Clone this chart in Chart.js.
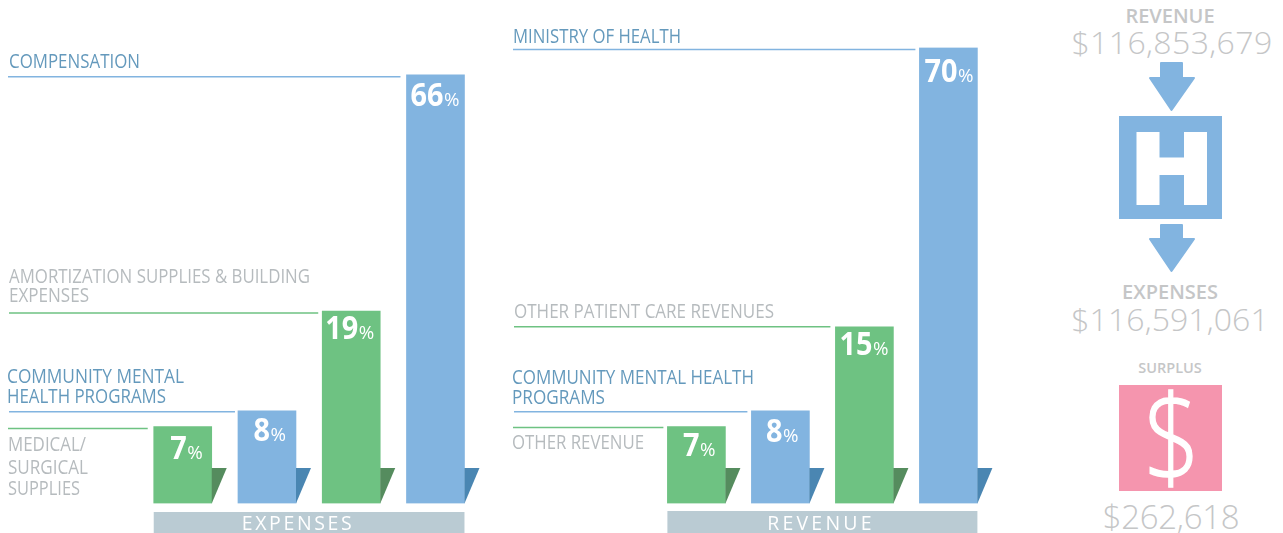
<!DOCTYPE html>
<html>
<head>
<meta charset="utf-8">
<script src="https://cdn.jsdelivr.net/npm/chart.js@4"></script>
<style>
html,body{margin:0;padding:0;background:#fff;width:1283px;height:533px;overflow:hidden;font-family:"Open Sans",sans-serif}
canvas{position:absolute;top:0}
#c1{left:0}#c2{left:500px}
.t{position:absolute;white-space:nowrap;text-align:center;color:#c5c6c7;line-height:1}
#panel svg{position:absolute;left:1060px;top:0}
</style>
</head>
<body>
<canvas id="c1" width="500" height="533"></canvas>
<canvas id="c2" width="500" height="533"></canvas>
<div id="panel">
<svg width="223" height="533" viewBox="1060 0 223 533">
<path d="M1161 63H1182V78H1194L1171.5 110L1150 78H1161Z" fill="#82b4e0" stroke="#82b4e0" stroke-width="2" stroke-linejoin="round"/>
<path d="M1161 225H1182V239H1194L1171.5 271L1150 239H1161Z" fill="#82b4e0" stroke="#82b4e0" stroke-width="2" stroke-linejoin="round"/>
<rect x="1119" y="116" width="103" height="103" fill="#82b4e0"/>
<path d="M1136.5 132H1159.5V157.5H1184V132H1207V205H1184V175H1159.5V205H1136.5Z" fill="#fff"/>
<rect x="1119" y="385" width="103" height="106" fill="#f595ae"/>
</svg>
</div>
<script>
// ---- data ----
const expenseCategories = ["Medical/Surgical Supplies", "Community Mental Health Programs", "Amortization Supplies & Building Expenses", "Compensation"];
const expenseValues = [7, 8, 19, 66];
const revenueCategories = ["Other Revenue", "Community Mental Health Programs", "Other Patient Care Revenues", "Ministry of Health"];
const revenueValues = [7, 8, 15, 70];
const expenseLabelLines = [["MEDICAL/", "SURGICAL", "SUPPLIES"], ["COMMUNITY MENTAL", "HEALTH PROGRAMS"], ["AMORTIZATION SUPPLIES & BUILDING", "EXPENSES"], ["COMPENSATION"]];
const revenueLabelLines = [["OTHER REVENUE"], ["COMMUNITY MENTAL HEALTH", "PROGRAMS"], ["OTHER PATIENT CARE REVENUES"], ["MINISTRY OF HEALTH"]];
const expenseBandTitle = "EXPENSES";
const revenueBandTitle = "REVENUE";
const summaryTitles = ["REVENUE", "EXPENSES", "SURPLUS"];
const summaryAmounts = ["$116,853,679", "$116,591,061", "$262,618"];

// The source graphic is not drawn to a linear scale: these axis stops reproduce it.
const axisValues = [0, 7, 8, 15, 19, 66, 70];
const axisShares = [0, 0.1688, 0.2035, 0.3875, 0.422, 0.9405, 1];

// ---- styling / layout ----
const GREEN = "#6ec282", BLUE = "#82b4e0", DGREEN = "#558c5e", DBLUE = "#4a86b2";
const BAND = "#bacbd3", LABEL_BLUE = "#6499bc", LABEL_GREY = "#b6bbbe";
const fillColors = [GREEN, BLUE, GREEN, BLUE];
const foldColors = [DGREEN, DBLUE, DGREEN, DBLUE];
const labelColors = [LABEL_GREY, LABEL_BLUE, LABEL_GREY, LABEL_BLUE];

class StopScale extends Chart.LinearScale {
  getPixelForValue(v) {
    let share = 1;
    for (let i = 1; i < axisValues.length; i++) {
      if (v <= axisValues[i]) {
        share = axisShares[i-1] + (v - axisValues[i-1]) / (axisValues[i] - axisValues[i-1]) * (axisShares[i] - axisShares[i-1]);
        break;
      }
    }
    return this.bottom - share * (this.bottom - this.top);
  }
}
StopScale.id = "stops";
StopScale.defaults = Chart.LinearScale.defaults;
Chart.register(StopScale);

const decorate = {
  id: "decorate",
  afterDatasetsDraw(chart, args, o) {
    const ctx = chart.ctx, bars = chart.getDatasetMeta(0).data, vals = chart.data.datasets[0].data;
    ctx.save();
    bars.forEach((b, i) => {
      const left = b.x - 29, right = b.x + 29, top = b.y, base = b.base;
      // fold
      ctx.fillStyle = foldColors[i];
      ctx.beginPath();
      ctx.moveTo(right, 468); ctx.lineTo(right + 15, 468); ctx.lineTo(right, base); ctx.closePath(); ctx.fill();
      // leader line
      ctx.strokeStyle = fillColors[i]; ctx.lineWidth = 1.5;
      ctx.beginPath(); ctx.moveTo(o.lineStart[i], top + o.lineDrop[i]); ctx.lineTo(left - o.lineGap[i], top + o.lineDrop[i]); ctx.stroke();
      // category text
      ctx.fillStyle = labelColors[i]; ctx.textAlign = "left"; ctx.textBaseline = "alphabetic";
      ctx.font = "400 20.5px 'Open Sans'";
      o.lines[i].forEach((txt, k) => {
        const p = o.linePos[i][k];
        ctx.fillText(txt, p[0], p[1], p[2]);
      });
      // value text
      const rightEdge = right - o.valueInset[i], yb = top + o.valueDrop[i];
      ctx.fillStyle = "#fff";
      ctx.font = "400 19px 'Open Sans'";
      ctx.textAlign = "right";
      ctx.fillText("%", rightEdge, yb, 15.5);
      const txt = String(vals[i]);
      ctx.font = "700 33px 'Open Sans'";
      ctx.fillText(txt, rightEdge - 16, yb, txt.length * 16.5);
    });
    // band
    const l = bars[0].x - 29, r = bars[3].x + 29;
    ctx.fillStyle = BAND;
    ctx.fillRect(l, o.bandTop, r - l, 533 - o.bandTop);
    ctx.fillStyle = "#fff"; ctx.textAlign = "center";
    ctx.font = "400 19.5px 'Open Sans'";
    ctx.letterSpacing = o.bandSpacing;
    ctx.fillText(o.band, o.bandTextX, 530);
    ctx.letterSpacing = "0px";
    ctx.restore();
  }
};

function build(id, cats, vals, padLeft, padRight, deco) {
  new Chart(document.getElementById(id), {
    type: "bar",
    data: { labels: cats, datasets: [{ data: vals, backgroundColor: fillColors, borderWidth: 0, barThickness: 58 }] },
    options: {
      responsive: false, animation: false,
      layout: { padding: { left: padLeft, right: padRight, top: 47.6, bottom: 29.5 } },
      plugins: { legend: { display: false }, tooltip: { enabled: false }, title: { display: false }, decorate: deco },
      scales: {
        x: { type: "category", display: false, grid: { display: false } },
        y: { type: "stops", display: false, min: 0, max: 70, grid: { display: false } }
      }
    },
    plugins: [decorate]
  });
}

build("c1", expenseCategories, expenseValues, 140.6, 22.4, {
  lines: expenseLabelLines, band: expenseBandTitle, bandTop: 512, bandTextX: 298, bandSpacing: "2.6px",
  lineStart: [8, 9, 9, 8], lineDrop: [2, 1, 2, 2], lineGap: [6, 3, 4, 6],
  valueInset: [9, 10, 6, 5], valueDrop: [32, 30, 28, 31],
  linePos: [
    [[8, 451, 78], [8, 474, 80], [8, 495, 72]],
    [[7, 383, 177], [7, 403, 159]],
    [[9, 283, 301], [9, 302, 80]],
    [[9, 68, 131]]
  ]
});
build("c2", revenueCategories, revenueValues, 154.4, 9.6, {
  lines: revenueLabelLines, band: revenueBandTitle, bandTop: 511, bandTextX: 321, bandSpacing: "3.2px",
  lineStart: [13, 14, 14, 13], lineDrop: [1, 1, 0, 2], lineGap: [4, 4, 5, 4],
  valueInset: [10, 11, 5, 4], valueDrop: [29, 31, 28, 34],
  linePos: [
    [[12, 449, 132]],
    [[12, 384, 242], [12, 404, 93]],
    [[14, 318, 260]],
    [[13, 43, 168]]
  ]
});

// right-hand summary, real text
function put(text, cx, top, css, extra) {
  const d = document.createElement("div");
  d.className = "t"; d.textContent = text;
  d.style.cssText = "left:" + cx + "px;top:" + top + "px;transform:translateX(-50%)" + (extra || "") + ";" + css;
  document.getElementById("panel").appendChild(d);
}
put(summaryTitles[0], 1170, 6, "font-size:20px;font-weight:600;");
put(summaryAmounts[0], 1172, 26, "font-size:32px;font-weight:300;letter-spacing:0.4px;");
put(summaryTitles[1], 1170, 282, "font-size:20px;font-weight:600;");
put(summaryAmounts[1], 1170, 303, "font-size:32px;font-weight:300;letter-spacing:0.1px;");
put(summaryTitles[2], 1170, 361, "font-size:14.5px;font-weight:600;");
put("$", 1171.5, 376, "font-size:118px;font-weight:300;color:#fff;-webkit-text-stroke:1.5px #fff;", " scaleX(.84)");
put(summaryAmounts[2], 1171, 500, "font-size:33px;font-weight:300;letter-spacing:-0.3px;");
</script>
</body>
</html>
